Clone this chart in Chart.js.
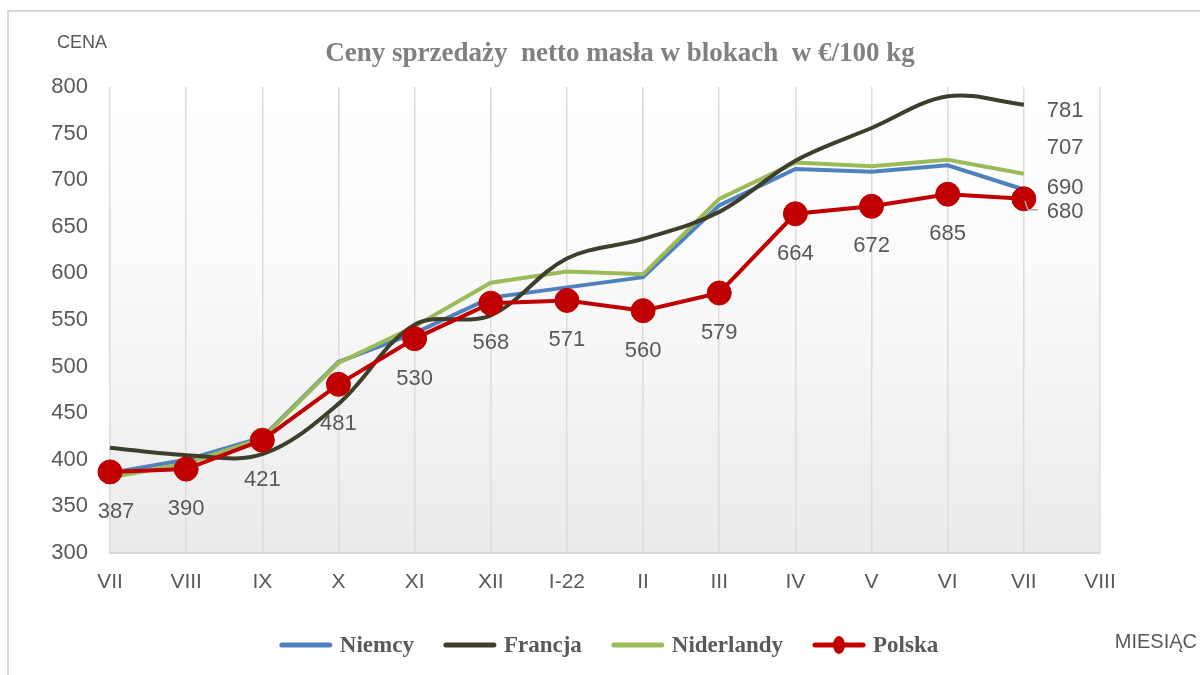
<!DOCTYPE html>
<html>
<head>
<meta charset="utf-8">
<script src="https://cdn.jsdelivr.net/npm/chart.js@4"></script>
<style>
	html, body { margin: 0; padding: 0; background: #ffffff; }
	#chart-box { width: 1200px; height: 675px; }
</style>
</head>
<body>
<div id="chart-box"><canvas id="price-chart" width="1200" height="675"></canvas></div>
<script>
const months = ["VII", "VIII", "IX", "X", "XI", "XII", "I-22", "II", "III", "IV", "V", "VI", "VII", "VIII"];

const niemcy =     [386, 400, 424, 505, 536, 574, 585, 596, 673, 712, 709, 716, 690];
const francja =    [413, 405, 406, 460, 545, 555, 616, 637, 666, 721, 756, 790, 781];
const niderlandy = [381, 396, 423, 504, 543, 590, 602, 599, 680, 719, 715, 722, 707];
const polska =     [387, 390, 421, 481, 530, 568, 571, 560, 579, 664, 672, 685, 680];

const titleText = "Ceny sprzedaży  netto masła w blokach  w €/100 kg";

const textGray = "#595959";
const sansFont = "'Liberation Sans', Arial, sans-serif";
const serifFont = "'Liberation Serif', 'Times New Roman', serif";

// where the last value of each series is written (right of the last point)
const endLabelShift = { "Niemcy": -2, "Francja": 6, "Niderlandy": -26, "Polska": 13 };

const frameAndTexts =
{
	id: "frameAndTexts",
	beforeDraw(chart)
	{
		const ctx = chart.ctx;
		const area = chart.chartArea;

		ctx.save();

		// outer frame
		ctx.strokeStyle = "#d9d9d9";
		ctx.lineWidth = 2;
		ctx.beginPath();
		ctx.moveTo(8, 675);
		ctx.lineTo(8, 11);
		ctx.lineTo(1200, 11);
		ctx.stroke();

		// plot background
		const gradient = ctx.createLinearGradient(0, area.top, 0, area.bottom);
		gradient.addColorStop(0, "#ffffff");
		gradient.addColorStop(0.35, "#fbfbfb");
		gradient.addColorStop(1, "#ebebeb");
		ctx.fillStyle = gradient;
		ctx.fillRect(area.left, area.top, area.right - area.left, area.bottom - area.top);

		ctx.restore();
	},
	afterDraw(chart)
	{
		const ctx = chart.ctx;

		ctx.save();

		ctx.fillStyle = "#808080";
		ctx.font = `bold 27px ${serifFont}`;
		ctx.textAlign = "center";
		ctx.textBaseline = "middle";
		ctx.fillText(titleText, 620, 54);

		ctx.fillStyle = textGray;
		ctx.font = `18px ${sansFont}`;
		ctx.textAlign = "left";
		ctx.fillText("CENA", 57, 43);

		ctx.font = `20px ${sansFont}`;
		ctx.textAlign = "right";
		ctx.fillText("MIESIĄC", 1197, 642);

		// legend
		ctx.font = `bold 23px ${serifFont}`;
		ctx.textAlign = "left";

		const lineLength = 48;
		const lineGap = 10;
		const itemGap = 32;
		const sets = chart.data.datasets;

		let total = 0;
		for(const set of sets)
		{
			total += lineLength + lineGap + ctx.measureText(set.label).width;
		}
		total += itemGap * (sets.length - 1);

		let x = 610 - total / 2;
		const y = 645;

		for(const set of sets)
		{
			ctx.strokeStyle = set.borderColor;
			ctx.lineWidth = 5;
			ctx.lineCap = "round";
			ctx.beginPath();
			ctx.moveTo(x, y);
			ctx.lineTo(x + lineLength, y);
			ctx.stroke();

			if(set.pointRadius > 0)
			{
				ctx.fillStyle = set.borderColor;
				ctx.beginPath();
				ctx.ellipse(x + lineLength / 2, y, 6, 9, 0, 0, Math.PI * 2);
				ctx.fill();
			}

			ctx.fillStyle = textGray;
			ctx.fillText(set.label, x + lineLength + lineGap, y + 1);

			x += lineLength + lineGap + ctx.measureText(set.label).width + itemGap;
		}

		ctx.restore();
	}
};

const valueLabels =
{
	id: "valueLabels",
	afterDatasetsDraw(chart)
	{
		const ctx = chart.ctx;

		ctx.save();
		ctx.fillStyle = textGray;
		ctx.font = `22px ${sansFont}`;
		ctx.textBaseline = "middle";

		chart.data.datasets.forEach((set, i) =>
		{
			const points = chart.getDatasetMeta(i).data;
			const last = points.length - 1;

			// Polska gets every value under its points
			if(set.label === "Polska")
			{
				ctx.textAlign = "center";
				for(let j = 0; j < last; j++)
				{
					ctx.fillText(String(set.data[j]), points[j].x + (j === 0 ? 6 : 0), points[j].y + 40);
				}

				// little leader line towards the shifted label
				ctx.strokeStyle = "#a6a6a6";
				ctx.lineWidth = 1.5;
				ctx.beginPath();
				ctx.moveTo(points[last].x + 1, points[last].y + 2);
				ctx.lineTo(points[last].x + 4, points[last].y + 11);
				ctx.lineTo(points[last].x + 14, points[last].y + 11);
				ctx.stroke();
			}

			ctx.textAlign = "left";
			ctx.fillText(String(set.data[last]), points[last].x + 23, points[last].y + endLabelShift[set.label]);
		});

		ctx.restore();
	}
};

const priceChart = new Chart(document.getElementById("price-chart"),
{
	type: "line",
	data:
	{
		labels: months,
		datasets:
		[
			{ label: "Niemcy", data: niemcy, borderColor: "#4f81bd", backgroundColor: "#4f81bd", borderWidth: 4, pointRadius: 0, tension: 0, order: 3 },
			{ label: "Francja", data: francja, borderColor: "#3f3d2b", backgroundColor: "#3f3d2b", borderWidth: 4, pointRadius: 0, tension: 0.35, order: 1 },
			{ label: "Niderlandy", data: niderlandy, borderColor: "#9bbb59", backgroundColor: "#9bbb59", borderWidth: 4, pointRadius: 0, tension: 0, order: 2 },
			{ label: "Polska", data: polska, borderColor: "#c00000", backgroundColor: "#c00000", borderWidth: 4, pointRadius: 12, pointHoverRadius: 12, pointBorderWidth: 1, tension: 0, order: 0 }
		]
	},
	options:
	{
		responsive: false,
		animation: false,
		events: [],
		clip: false,
		layout: { padding: { left: 0, top: 87, right: 100, bottom: 72 } },
		plugins:
		{
			legend: { display: false },
			title: { display: false },
			tooltip: { enabled: false }
		},
		scales:
		{
			x:
			{
				offset: false,
				grid: { color: "#dcdcdc", lineWidth: 1.5, drawTicks: false },
				border: { color: "#d9d9d9", width: 2 },
				ticks: { color: textGray, font: { family: sansFont, size: 21 }, padding: 17, maxRotation: 0, autoSkip: false },
				afterFit: scale => { scale.height = 50; }
			},
			y:
			{
				min: 300,
				max: 800,
				grid: { display: false, drawTicks: false },
				border: { display: false },
				ticks: { stepSize: 50, color: textGray, font: { family: sansFont, size: 22 }, padding: 22 },
				afterFit: scale => { scale.width = 110; }
			}
		}
	},
	plugins: [ frameAndTexts, valueLabels ]
});
</script>
</body>
</html>
